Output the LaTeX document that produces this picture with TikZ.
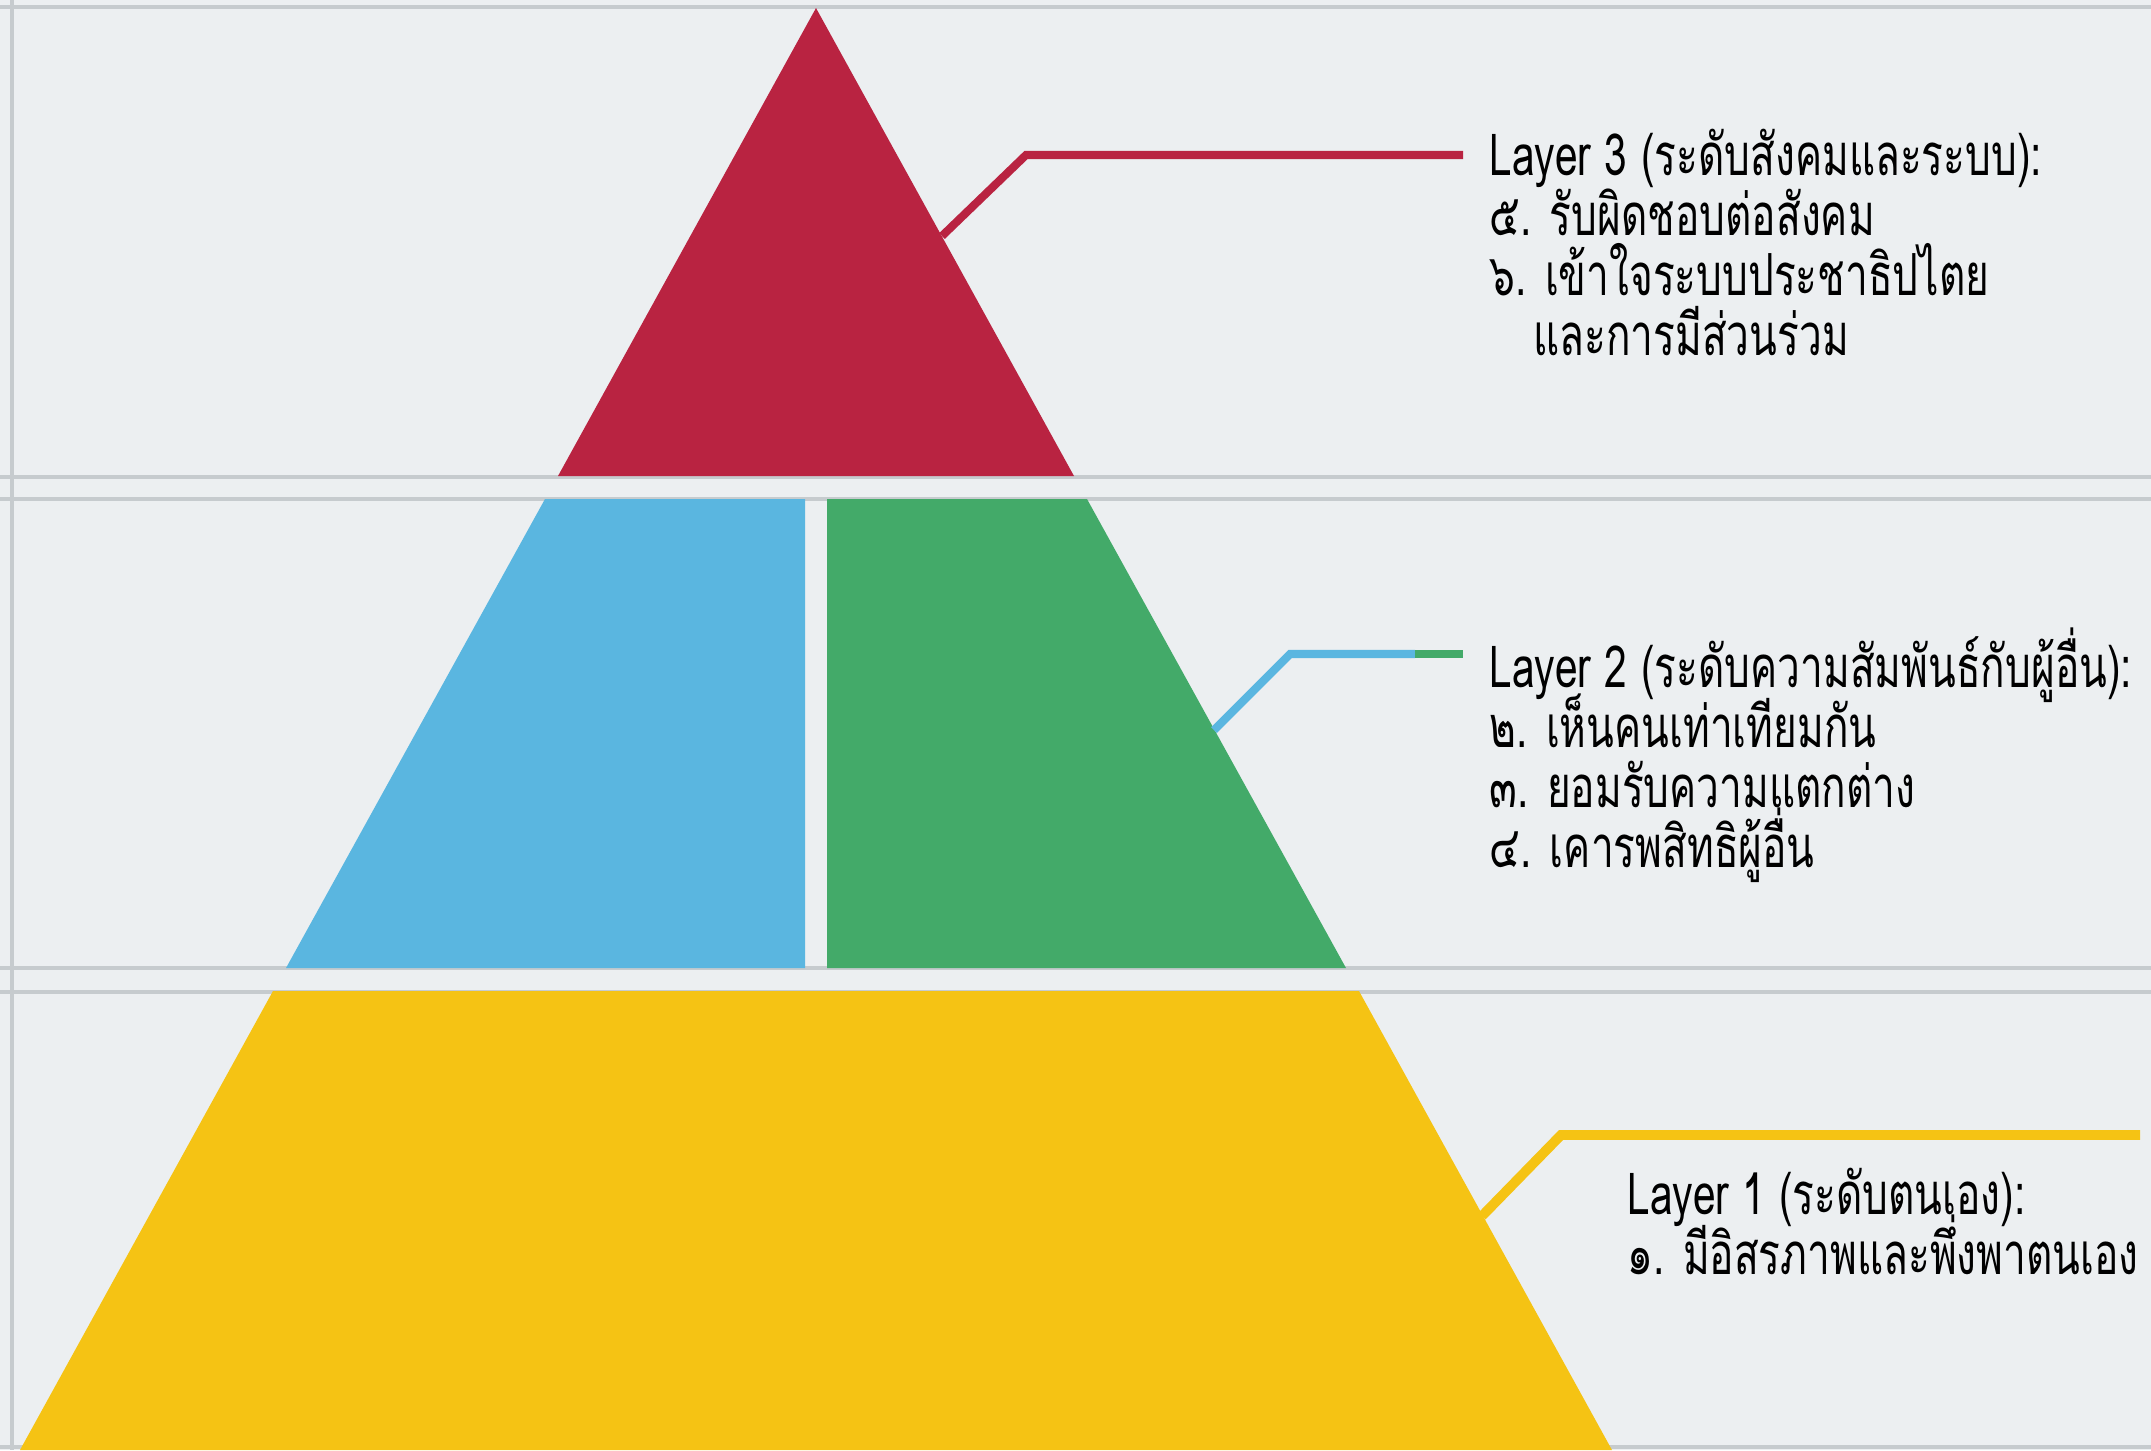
\documentclass[tikz,border=0pt]{standalone}
\usepackage{fontspec}
\newfontfamily\thaifont[Script=Thai,FakeStretch=0.7]{Loma}
\usetikzlibrary{positioning}
\setlength{\lineskiplimit}{-20pt}
\definecolor{bgcol}{HTML}{ECEFF1}
\definecolor{gridcol}{HTML}{C6CBCE}
\definecolor{topred}{HTML}{B92341}
\definecolor{midblue}{HTML}{5AB6E0}
\definecolor{midgreen}{HTML}{43AA69}
\definecolor{baseyellow}{HTML}{F5C314}
\tikzset{
  guide/.style={draw=gridcol, line width=0.9pt},
  lead/.style={line width=2.3pt},
  layertext/.style={font=\thaifont\fontsize{16.5}{17.1}\selectfont,
    align=left, inner sep=0pt, anchor=north west},
}
\begin{document}
\begin{tikzpicture}[x=0.01cm,y=-0.01cm]
    \fill[bgcol] (0,0) rectangle (2151,1450);
    \useasboundingbox (0,0) rectangle (2151,1450);
    % guide lines
    \foreach \y in {7,477,499,968,992,1447}
        \draw[guide] (0,\y) -- (2151,\y);
    \draw[guide] (12,0) -- (12,1450);

    % pyramid
    \fill[topred] (816,8) -- (1074,476) -- (558,476) -- cycle;
    \fill[midblue] (545,499) -- (805,499) -- (805,968) -- (286,968) -- cycle;
    \fill[midgreen] (827,499) -- (1087,499) -- (1346,968) -- (827,968) -- cycle;
    \fill[baseyellow] (273,991) -- (1359,991) -- (1612,1450) -- (20,1450) -- cycle;

    % labels
    \node[layertext] (layer3) at (1489,128) {Layer 3 (ระดับสังคมและระบบ):\\
        ๕. รับผิดชอบต่อสังคม\\
        ๖. เข้าใจระบบประชาธิปไตย\\
        \hspace*{0.75em}และการมีส่วนร่วม};
    \node[layertext] (layer2) at (1489,627) {Layer 2 (ระดับความสัมพันธ์กับผู้อื่น):\\
        ๒. เห็นคนเท่าเทียมกัน\\
        ๓. ยอมรับความแตกต่าง\\
        ๔. เคารพสิทธิผู้อื่น};
    \node[layertext] (layer1) at (1627,1167) {Layer 1 (ระดับตนเอง):\\
        ๑. มีอิสรภาพและพึ่งพาตนเอง};

    % leaders
    \coordinate (l3a) at (942,236);
    \coordinate (l3b) at (1026,155);
    \coordinate (l3c) at (1463,155);
    \draw[lead, topred] (l3a) -- (l3b) -- (l3c);

    \coordinate (l2a) at (1214,730);
    \coordinate (l2b) at (1290,654);
    \coordinate (l2c) at (1415,654);
    \coordinate (l2d) at (1463,654);
    \draw[lead, midblue] (l2a) -- (l2b) -- (l2c);
    \draw[lead, midgreen] (l2c) -- (l2d);

    \coordinate (l1a) at (1482,1216);
    \coordinate (l1b) at (1561,1135);
    \coordinate (l1c) at (2140,1135);
    \draw[lead, baseyellow, line width=2.8pt] (l1a) -- (l1b) -- (l1c);
\end{tikzpicture}
\end{document}
